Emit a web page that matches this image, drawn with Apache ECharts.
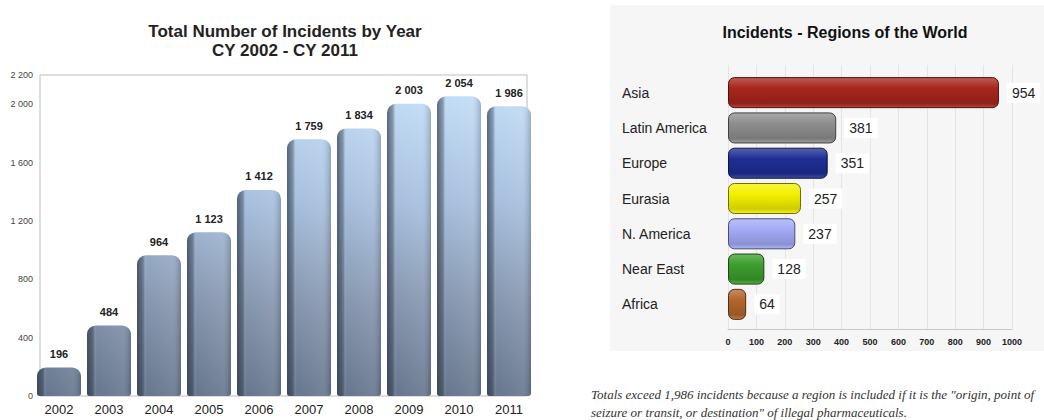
<!DOCTYPE html>
<html>
<head>
<meta charset="utf-8">
<script src="https://cdn.jsdelivr.net/npm/echarts@6/dist/echarts.min.js"></script>
<style>
  html, body { margin: 0; padding: 0; background: #fff; }
  #chart { width: 1044px; height: 420px; }
</style>
</head>
<body>
<div id="chart"></div>
<script>
// data
var years = ['2002', '2003', '2004', '2005', '2006', '2007', '2008', '2009', '2010', '2011'];
var yearCounts = [196, 484, 964, 1123, 1412, 1759, 1834, 2003, 2054, 1986];
var yearTicks = [0, 400, 800, 1200, 1600, 2000, 2200];

var regions = ['Asia', 'Latin America', 'Europe', 'Eurasia', 'N. America', 'Near East', 'Africa'];
var regionCounts = [954, 381, 351, 257, 237, 128, 64];
var regionTicks = [0, 100, 200, 300, 400, 500, 600, 700, 800, 900, 1000];

var regionColors = ['#a8261c', '#8e8e8e', '#1f2e94', '#f4f000', '#a3abf7', '#3c9e2c', '#b3662c'];

function spaced(v) {
	return String(v).replace(/\B(?=(\d{3})+(?!\d))/g, ' ');
}

function shade(hex, amt) {
	var n = parseInt(hex.slice(1), 16);
	var r = n >> 16, g = (n >> 8) & 255, b = n & 255;
	function f(c) {
		c = amt < 0 ? c * (1 + amt) : c + (255 - c) * amt;
		return Math.max(0, Math.min(255, Math.round(c)));
	}
	return 'rgb(' + f(r) + ',' + f(g) + ',' + f(b) + ')';
}

var chart = echarts.init(document.getElementById('chart'), null, { renderer: 'svg' });

chart.setOption({
	backgroundColor: '#fff',
	animation: false,
	textStyle: { fontFamily: 'Liberation Sans, Arial, sans-serif' },
	graphic: [{
		type: 'rect',
		z: -10,
		shape: { x: 610, y: 5, width: 434, height: 346 },
		style: { fill: '#f6f6f6' }
	}],
	title: [{
		text: 'Total Number of Incidents by Year\nCY 2002 - CY 2011',
		left: 280,
		top: 17,
		textAlign: 'center',
		textStyle: { fontSize: 17, fontWeight: 'bold', color: '#222', lineHeight: 19 }
	}, {
		text: 'Incidents - Regions of the World',
		left: 840,
		top: 19,
		textAlign: 'center',
		textStyle: { fontSize: 16, fontWeight: 'bold', color: '#111' }
	}, {
		text: 'Totals exceed 1,986 incidents because a region is included if it is the "origin, point of\nseizure or transit, or destination" of illegal pharmaceuticals.',
		left: 586,
		top: 380,
		textStyle: { fontSize: 13, fontStyle: 'italic', fontWeight: 'normal', color: '#333', lineHeight: 18, fontFamily: 'Liberation Serif, Georgia, serif' }
	}],
	grid: [
		{ left: 34, top: 75, width: 500, height: 321 },
		{ left: 40, top: 75, width: 487, height: 321, show: true, borderColor: '#bdbdbd', borderWidth: 1 },
		{ left: 728, top: 75, width: 284, height: 247 },
		{ left: 728, top: 65, width: 284, height: 264 }
	],
	xAxis: [{
		type: 'category',
		gridIndex: 0,
		data: years,
		axisLine: { show: false },
		axisTick: { show: false },
		axisLabel: { fontSize: 13, color: '#222', margin: 7 }
	}, {
		type: 'value', gridIndex: 1, min: 0, max: 1, show: false
	}, {
		type: 'value', gridIndex: 2, min: 0, max: 1000, show: false
	}, {
		type: 'value',
		gridIndex: 3,
		min: 0,
		max: 1000,
		interval: 100,
		axisLine: { show: true, lineStyle: { color: '#c8c8c8' } },
		axisTick: { show: false },
		splitLine: { show: true, lineStyle: { color: '#e4e4e4' } },
		axisLabel: {
			fontSize: 9,
			fontWeight: 'bold',
			color: '#222',
			margin: 8,
			formatter: function (v) { return regionTicks.indexOf(v) >= 0 ? String(v) : ''; }
		}
	}],
	yAxis: [{
		type: 'value',
		gridIndex: 0,
		min: 0,
		max: 2200,
		interval: 400,
		axisLine: { show: false },
		axisTick: { show: false },
		splitLine: { show: false },
		axisLabel: {
			fontSize: 9,
			color: '#444',
			margin: 1,
			formatter: function (v) { return yearTicks.indexOf(v) >= 0 ? spaced(v) : ''; }
		}
	}, {
		type: 'value', gridIndex: 1, min: 0, max: 1, show: false
	}, {
		type: 'category',
		gridIndex: 2,
		data: regions,
		inverse: true,
		axisLine: { show: false },
		axisTick: { show: false },
		axisLabel: { fontSize: 14, color: '#222', align: 'left', margin: 106 }
	}, {
		type: 'category', gridIndex: 3, data: [], show: false
	}],
	series: [{
		name: 'Incidents',
		type: 'bar',
		xAxisIndex: 0,
		yAxisIndex: 0,
		data: yearCounts,
		barWidth: 44,
		barGap: '-100%',
		itemStyle: {
			borderRadius: [9, 9, 3, 3],
			color: new echarts.graphic.LinearGradient(0, 75, 0, 396, [
				{ offset: 0, color: '#c8e2fb' },
				{ offset: 0.4, color: '#a6bfdd' },
				{ offset: 0.7, color: '#8797b0' },
				{ offset: 1, color: '#66768d' }
			], true)
		},
		label: {
			show: true,
			position: 'top',
			distance: 8,
			fontSize: 11,
			fontWeight: 'bold',
			color: '#222',
			formatter: function (p) { return spaced(p.value); }
		}
	}, {
		name: 'shade',
		type: 'bar',
		xAxisIndex: 0,
		yAxisIndex: 0,
		data: yearCounts,
		barWidth: 44,
		barGap: '-100%',
		silent: true,
		itemStyle: {
			borderRadius: [9, 9, 3, 3],
			color: new echarts.graphic.LinearGradient(0, 0, 1, 0, [
				{ offset: 0, color: 'rgba(35,45,60,0.65)' },
				{ offset: 0.14, color: 'rgba(35,45,60,0.35)' },
				{ offset: 0.22, color: 'rgba(255,255,255,0)' },
				{ offset: 0.8, color: 'rgba(255,255,255,0.08)' },
				{ offset: 1, color: 'rgba(35,45,60,0.25)' }
			])
		}
	}, {
		name: 'Regions',
		type: 'bar',
		xAxisIndex: 2,
		yAxisIndex: 2,
		barCategoryGap: '12%',
		data: regionCounts.map(function (v, i) {
			var c = regionColors[i];
			return {
				value: v,
				itemStyle: {
					color: new echarts.graphic.LinearGradient(0, 0, 0, 1, [
						{ offset: 0, color: shade(c, 0.25) },
						{ offset: 0.35, color: c },
						{ offset: 0.85, color: shade(c, -0.15) },
						{ offset: 1, color: shade(c, 0.15) }
					]),
					borderColor: shade(c, -0.55),
					borderWidth: 1,
					borderRadius: 6
				}
			};
		}),
		label: {
			show: true,
			position: 'right',
			distance: 8,
			fontSize: 14,
			color: '#222',
			backgroundColor: '#fff',
			padding: [3, 5]
		}
	}]
});
</script>
</body>
</html>
